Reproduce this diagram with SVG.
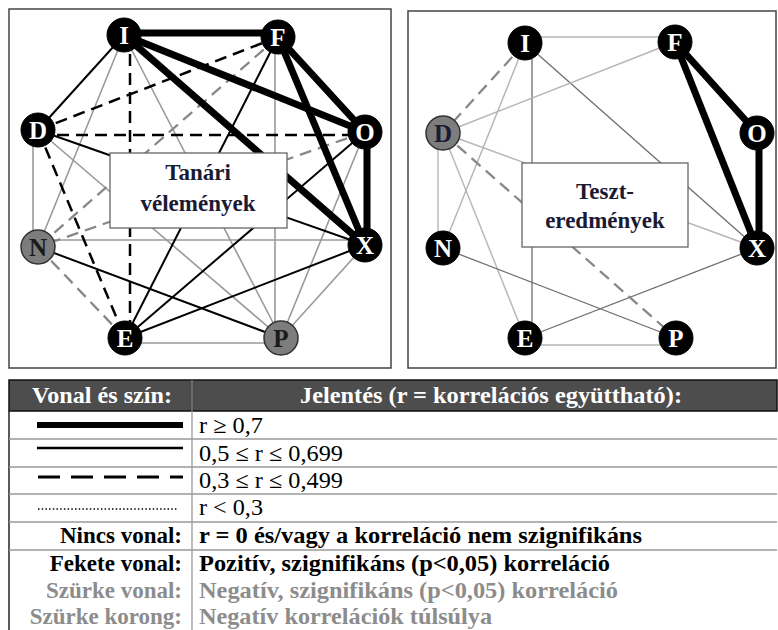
<svg xmlns="http://www.w3.org/2000/svg" width="778" height="630" viewBox="0 0 778 630">
<style>
line{fill:none;stroke-linecap:butt}
text{font-family:'Liberation Serif','Times New Roman',Times,'DejaVu Serif','Noto Serif',serif}
.thick{stroke:#000;stroke-width:7}
.med{stroke:#000;stroke-width:2}
.dash{stroke:#000;stroke-width:2.5;stroke-dasharray:12 7}
.gray{stroke:#9a9a9a;stroke-width:1.6}
.gdash{stroke:#888;stroke-width:2.3;stroke-dasharray:12 7}
.lgray{stroke:#b5b5b5;stroke-width:1.4}
.dgray{stroke:#6e6e6e;stroke-width:1.3}
.panel{fill:#fff;stroke:#444;stroke-width:1.5}
.box{fill:#fff;stroke:#666;stroke-width:1.3}
.btxt{font-weight:bold;font-size:23px;fill:#1a1a33;text-anchor:middle}
.nb{fill:#000;stroke:#000;stroke-width:1}
.ng{fill:#7d7d7d;stroke:#333;stroke-width:1.5}
.lw{font-weight:bold;font-size:25px;fill:#fff;text-anchor:middle}
.lk{font-weight:bold;font-size:25px;fill:#1a1a1a;text-anchor:middle}
.t{font-size:23px;fill:#000}
.tb{font-size:23px;font-weight:bold;fill:#000}
.tg{font-size:23px;font-weight:bold;fill:#8c8c8c}
.th{font-size:23px;font-weight:bold;fill:#fff;text-anchor:middle}
.rowl{stroke:#9a9a9a;stroke-width:1.3}
</style>
<rect width="778" height="630" fill="#fff"/>
<rect class="panel" x="9" y="9" width="382" height="359"/>
<rect class="panel" x="408" y="11" width="368" height="357"/>

<g id="connectors">
 <line class="gray" x1="33" y1="130" x2="33" y2="247"/>
 <line class="gray" x1="124" y1="35" x2="38" y2="247"/>
 <line class="gray" x1="124" y1="35" x2="281" y2="338"/>
 <line class="gray" x1="38" y1="130" x2="281" y2="338"/>
 <line class="gray" x1="38" y1="240" x2="365" y2="240"/>
 <line class="gray" x1="275" y1="37" x2="275" y2="338"/>
 <line class="gray" x1="365" y1="132" x2="281" y2="338"/>
 <line class="gray" x1="365" y1="245" x2="281" y2="338"/>
 <line class="gray" x1="125" y1="343" x2="281" y2="343"/>
 <line class="gdash" x1="278" y1="37" x2="38" y2="247"/>
 <line class="gdash" x1="365" y1="132" x2="38" y2="247"/>
 <line class="gdash" x1="38" y1="247" x2="125" y2="338"/>
 <line class="dash" x1="38" y1="130" x2="278" y2="37"/>
 <line class="dash" x1="38" y1="135" x2="365" y2="135"/>
 <line class="dash" x1="130" y1="35" x2="130" y2="338"/>
 <line class="dash" x1="38" y1="130" x2="125" y2="338"/>
 <line class="med" x1="124" y1="35" x2="38" y2="130"/>
 <line class="med" x1="38" y1="130" x2="365" y2="245"/>
 <line class="med" x1="278" y1="37" x2="125" y2="338"/>
 <line class="med" x1="365" y1="132" x2="125" y2="338"/>
 <line class="med" x1="125" y1="338" x2="365" y2="245"/>
 <line class="med" x1="38" y1="247" x2="281" y2="338"/>
 <line class="thick" x1="124" y1="33" x2="278" y2="33"/>
 <line class="thick" x1="124" y1="35" x2="365" y2="132"/>
 <line class="thick" x1="124" y1="35" x2="365" y2="245"/>
 <line class="thick" x1="278" y1="37" x2="365" y2="132"/>
 <line class="thick" x1="278" y1="37" x2="365" y2="245"/>
 <line class="thick" x1="367" y1="132" x2="367" y2="245"/>
 <line class="lgray" x1="525" y1="37" x2="675" y2="37"/>
 <line class="lgray" x1="525" y1="43" x2="443" y2="248"/>
 <line class="dgray" x1="532" y1="43" x2="532" y2="338"/>
 <line class="dgray" x1="525" y1="43" x2="757" y2="248"/>
 <line class="lgray" x1="443" y1="133" x2="675" y2="42"/>
 <line class="lgray" x1="438" y1="133" x2="438" y2="248"/>
 <line class="lgray" x1="443" y1="133" x2="525" y2="338"/>
 <line class="lgray" x1="443" y1="133" x2="757" y2="248"/>
 <line class="dgray" x1="443" y1="248" x2="676" y2="338"/>
 <line class="dgray" x1="525" y1="338" x2="757" y2="248"/>
 <line class="lgray" x1="525" y1="345" x2="676" y2="345"/>
 <line class="gdash" x1="525" y1="43" x2="443" y2="133"/>
 <line class="gdash" x1="443" y1="133" x2="676" y2="338"/>
 <line class="thick" x1="675" y1="42" x2="757" y2="133"/>
 <line class="thick" x1="675" y1="42" x2="757" y2="248"/>
 <line class="thick" x1="759" y1="133" x2="759" y2="248"/>
</g>

<g id="box-tanari">
 <rect class="box" x="110" y="153" width="177" height="75"/>
 <text class="btxt" x="198" y="180">Tanári</text>
 <text class="btxt" x="198" y="211">vélemények</text>
</g>
<g id="box-teszt">
 <rect class="box" x="522" y="163" width="166" height="84"/>
 <text class="btxt" x="605" y="199">Teszt-</text>
 <text class="btxt" x="605" y="228">eredmények</text>
</g>

<g id="L-I"><circle class="nb" cx="124" cy="35" r="17"/><text class="lw" x="124" y="44">I</text></g>
<g id="L-F"><circle class="nb" cx="278" cy="37" r="17"/><text class="lw" x="278" y="46">F</text></g>
<g id="L-D"><circle class="nb" cx="38" cy="130" r="17"/><text class="lw" x="38" y="139">D</text></g>
<g id="L-O"><circle class="nb" cx="365" cy="132" r="17"/><text class="lw" x="365" y="141">O</text></g>
<g id="L-N"><circle class="ng" cx="38" cy="247" r="17"/><text class="lk" x="38" y="256">N</text></g>
<g id="L-X"><circle class="nb" cx="365" cy="245" r="17"/><text class="lw" x="365" y="254">X</text></g>
<g id="L-E"><circle class="nb" cx="125" cy="338" r="17"/><text class="lw" x="125" y="347">E</text></g>
<g id="L-P"><circle class="ng" cx="281" cy="338" r="17"/><text class="lk" x="281" y="347">P</text></g>

<g id="R-I"><circle class="nb" cx="525" cy="43" r="17"/><text class="lw" x="525" y="52">I</text></g>
<g id="R-F"><circle class="nb" cx="675" cy="42" r="17"/><text class="lw" x="675" y="51">F</text></g>
<g id="R-D"><circle class="ng" cx="443" cy="133" r="17"/><text class="lk" x="443" y="142" style="fill:#1a1a33">D</text></g>
<g id="R-O"><circle class="nb" cx="757" cy="133" r="17"/><text class="lw" x="757" y="142">O</text></g>
<g id="R-N"><circle class="nb" cx="443" cy="248" r="17"/><text class="lw" x="443" y="257">N</text></g>
<g id="R-X"><circle class="nb" cx="757" cy="248" r="17"/><text class="lw" x="757" y="257">X</text></g>
<g id="R-E"><circle class="nb" cx="525" cy="338" r="17"/><text class="lw" x="525" y="347">E</text></g>
<g id="R-P"><circle class="nb" cx="676" cy="338" r="17"/><text class="lw" x="676" y="347">P</text></g>

<g id="legend">
 <rect x="9" y="380" width="768" height="31" fill="#4d4d4d" stroke="#111" stroke-width="1.5"/>
 <line x1="192" y1="380" x2="192" y2="411" stroke="#888" stroke-width="1"/>
 <text class="th" x="102" y="403" textLength="140" lengthAdjust="spacingAndGlyphs">Vonal és szín:</text>
 <text class="th" x="491" y="403" textLength="382" lengthAdjust="spacingAndGlyphs">Jelentés (r = korrelációs együttható):</text>
 <line x1="9" y1="411" x2="9" y2="630" stroke="#222" stroke-width="1.5"/>
 <line x1="192" y1="411" x2="192" y2="630" stroke="#999" stroke-width="1.3"/>
 <line class="rowl" x1="9" y1="439" x2="777" y2="439"/>
 <line class="rowl" x1="9" y1="467" x2="777" y2="467"/>
 <line class="rowl" x1="9" y1="494" x2="777" y2="494"/>
 <line class="rowl" x1="9" y1="522" x2="777" y2="522" stroke-width="1.8"/>
 <line class="rowl" x1="9" y1="550" x2="777" y2="550"/>
 <line x1="37" y1="425" x2="183" y2="425" stroke="#000" stroke-width="6"/>
 <line x1="37" y1="448" x2="183" y2="448" stroke="#000" stroke-width="2.5"/>
 <line x1="38" y1="477" x2="183" y2="477" stroke="#000" stroke-width="3" stroke-dasharray="22 11"/>
 <line x1="38" y1="509" x2="178" y2="509" stroke="#000" stroke-width="1.5" stroke-dasharray="1.5 2.2"/>
 <text class="t" x="199" y="433" textLength="64" lengthAdjust="spacingAndGlyphs">r ≥ 0,7</text>
 <text class="t" x="199" y="461" textLength="144" lengthAdjust="spacingAndGlyphs">0,5 ≤ r ≤ 0,699</text>
 <text class="t" x="199" y="488" textLength="144" lengthAdjust="spacingAndGlyphs">0,3 ≤ r ≤ 0,499</text>
 <text class="t" x="199" y="515" textLength="64" lengthAdjust="spacingAndGlyphs">r &lt; 0,3</text>
 <text class="tb" x="182" y="543" text-anchor="end">Nincs vonal:</text>
 <text class="tb" x="199" y="543" textLength="443" lengthAdjust="spacingAndGlyphs">r = 0 és/vagy a korreláció nem szignifikáns</text>
 <text class="tb" x="182" y="571" text-anchor="end">Fekete vonal:</text>
 <text class="tb" x="199" y="571" textLength="411" lengthAdjust="spacingAndGlyphs">Pozitív, szignifikáns (p&lt;0,05) korreláció</text>
 <text class="tg" x="182" y="598" text-anchor="end">Szürke vonal:</text>
 <text class="tg" x="199" y="598" textLength="419" lengthAdjust="spacingAndGlyphs">Negatív, szignifikáns (p&lt;0,05) korreláció</text>
 <text class="tg" x="182" y="624" text-anchor="end">Szürke korong:</text>
 <text class="tg" x="199" y="624" textLength="293" lengthAdjust="spacingAndGlyphs">Negatív korrelációk túlsúlya</text>
</g>
</svg>
